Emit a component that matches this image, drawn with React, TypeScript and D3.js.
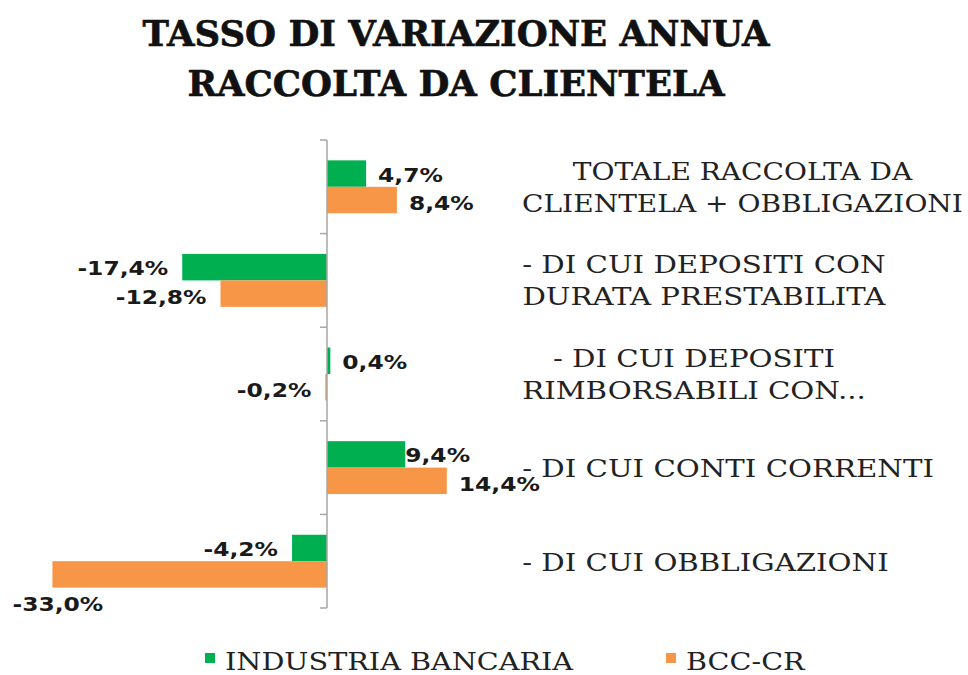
import React, { useEffect, useRef } from "react";
import * as d3 from "d3";

const W = 968;
const H = 675;

const titleLines = ["TASSO DI VARIAZIONE ANNUA", "RACCOLTA DA CLIENTELA"];
const categories = [
  "TOTALE RACCOLTA DA CLIENTELA + OBBLIGAZIONI",
  "- DI CUI DEPOSITI CON DURATA PRESTABILITA",
  "- DI CUI DEPOSITI RIMBORSABILI CON...",
  "- DI CUI CONTI CORRENTI",
  "- DI CUI OBBLIGAZIONI",
];
const categoryLines = [
  ["TOTALE RACCOLTA DA", "CLIENTELA + OBBLIGAZIONI"],
  ["- DI CUI DEPOSITI CON", "DURATA PRESTABILITA"],
  ["- DI CUI DEPOSITI", "RIMBORSABILI CON..."],
  ["- DI CUI CONTI CORRENTI"],
  ["- DI CUI OBBLIGAZIONI"],
];
const seriesNames = ["INDUSTRIA BANCARIA", "BCC-CR"];
const industria = [4.7, -17.4, 0.4, 9.4, -4.2];
const bcc = [8.4, -12.8, -0.2, 14.4, -33.0];
const seriesValues = [industria, bcc];
const seriesColors = ["#00B050", "#F79646"];

// horizontal stretch of text in the reference
const SX = 1.17;
const CAT_SX = 1.17;
const TITLE_SX = 1.015;

export default function App() {
  const ref = useRef<SVGSVGElement>(null);

  useEffect(() => {
    const svg = d3.select(ref.current);
    svg.selectAll("*").remove();

    const x = d3.scaleLinear().domain([-35, 15]).range([327 - 35 * 8.32, 327 + 15 * 8.32]);
    const yCat = d3.scaleBand<string>().domain(categories).range([140, 608]).padding(0);
    const ySer = d3
      .scaleBand<string>()
      .domain(seriesNames)
      .range([0, yCat.bandwidth()])
      .paddingInner(0)
      .paddingOuter(0.77);

    const fmt = (v: number) => (v < 0 ? "-" : "") + Math.abs(v).toFixed(1).replace(".", ",") + "%";

    // title
    const tg = svg.append("g");
    titleLines.forEach((t, i) => {
      tg.append("text")
        .attr("transform", `translate(456,${46 + i * 50}) scale(${TITLE_SX},1)`)
        .attr("text-anchor", "middle")
        .attr("font-family", "DejaVu Serif")
        .attr("font-weight", "bold")
        .attr("font-size", 35)
        .attr("stroke", "#111")
        .attr("stroke-width", 0.6)
        .attr("fill", "#111")
        .text(t);
    });

    // bars
    seriesNames.forEach((s, si) => {
      svg
        .append("g")
        .selectAll("rect")
        .data(seriesValues[si])
        .join("rect")
        .attr("x", (d) => Math.min(x(0), x(d)))
        .attr("width", (d) => Math.abs(x(d) - x(0)))
        .attr("y", (_, i) => (yCat(categories[i]) as number) + (ySer(s) as number))
        .attr("height", ySer.bandwidth())
        .attr("fill", seriesColors[si]);
    });

    // axis
    const axis = svg.append("g").attr("transform", `translate(${x(0)},0)`);
    const tickYs = categories.map((c) => yCat(c) as number).concat([yCat.range()[1]]);
    axis
      .append("line")
      .attr("x1", 0)
      .attr("x2", 0)
      .attr("y1", tickYs[0])
      .attr("y2", tickYs[tickYs.length - 1])
      .attr("stroke", "#a6a6a6")
      .attr("stroke-width", 1.5);
    axis
      .selectAll("line.tick")
      .data(tickYs)
      .join("line")
      .attr("class", "tick")
      .attr("x1", -7)
      .attr("x2", 0)
      .attr("y1", (d) => d)
      .attr("y2", (d) => d)
      .attr("stroke", "#a6a6a6")
      .attr("stroke-width", 1.5);

    // value labels
    const labelAdjust: Record<string, { dx?: number; below?: boolean }> = {
      "0-3": { dx: -12 },
      "1-4": { below: true },
    };
    seriesNames.forEach((s, si) => {
      seriesValues[si].forEach((v, i) => {
        const adj = labelAdjust[`${si}-${i}`] || {};
        const yc = (yCat(categories[i]) as number) + (ySer(s) as number) + ySer.bandwidth() / 2;
        let lx: number;
        let ly = yc + 8 + (si === 1 ? 2 : 0);
        let anchor: string;
        if (adj.below) {
          lx = x(v) - 40;
          ly = yc + ySer.bandwidth() / 2 + 23;
          anchor = "start";
        } else if (v >= 0) {
          lx = x(v) + 12 + (adj.dx || 0);
          anchor = "start";
        } else {
          lx = x(v) - 14;
          anchor = "end";
        }
        svg
          .append("text")
          .attr("transform", `translate(${lx},${ly}) scale(${SX},1)`)
          .attr("text-anchor", anchor)
          .attr("font-family", "DejaVu Sans")
          .attr("font-weight", "bold")
          .attr("font-size", 20)
          .attr("fill", "#1a1a1a")
          .text(fmt(v));
      });
    });

    // category labels (right side), wrapped lines centered in a block
    const blockLeft = 522;
    categoryLines.forEach((lines, i) => {
      const yc = (yCat(categories[i]) as number) + yCat.bandwidth() / 2;
      const g = svg.append("g");
      const texts = lines.map((ln, li) =>
        g
          .append("text")
          .attr("text-anchor", "middle")
          .attr("font-family", "DejaVu Serif")
          .attr("font-size", 25)
          .attr("fill", "#222")
          .attr("data-baseline", lines.length === 1 ? yc + 9.5 : yc - 7 + li * 32)
          .text(ln)
      );
      const maxW =
        d3.max(texts, (t) => (t.node() as SVGTextElement).getComputedTextLength()) || 0;
      const scale = Math.min(CAT_SX, (963 - blockLeft) / maxW);
      const cx = blockLeft + (maxW * scale) / 2;
      texts.forEach((t) => {
        const by = +t.attr("data-baseline");
        t.attr("transform", `translate(${cx},${by}) scale(${scale},1)`);
      });
    });

    // legend
    const legX = [205, 666];
    seriesNames.forEach((s, si) => {
      svg
        .append("rect")
        .attr("x", legX[si])
        .attr("y", 653)
        .attr("width", 10)
        .attr("height", 10)
        .attr("fill", seriesColors[si]);
      svg
        .append("text")
        .attr("transform", `translate(${legX[si] + 20},670) scale(${SX},1)`)
        .attr("font-family", "DejaVu Serif")
        .attr("font-size", 24.5)
        .attr("fill", "#222")
        .text(s);
    });
  }, []);

  return (
    <svg
      ref={ref}
      width={W}
      height={H}
      style={{ position: "absolute", left: 0, top: 0, background: "#fff" }}
    />
  );
}
